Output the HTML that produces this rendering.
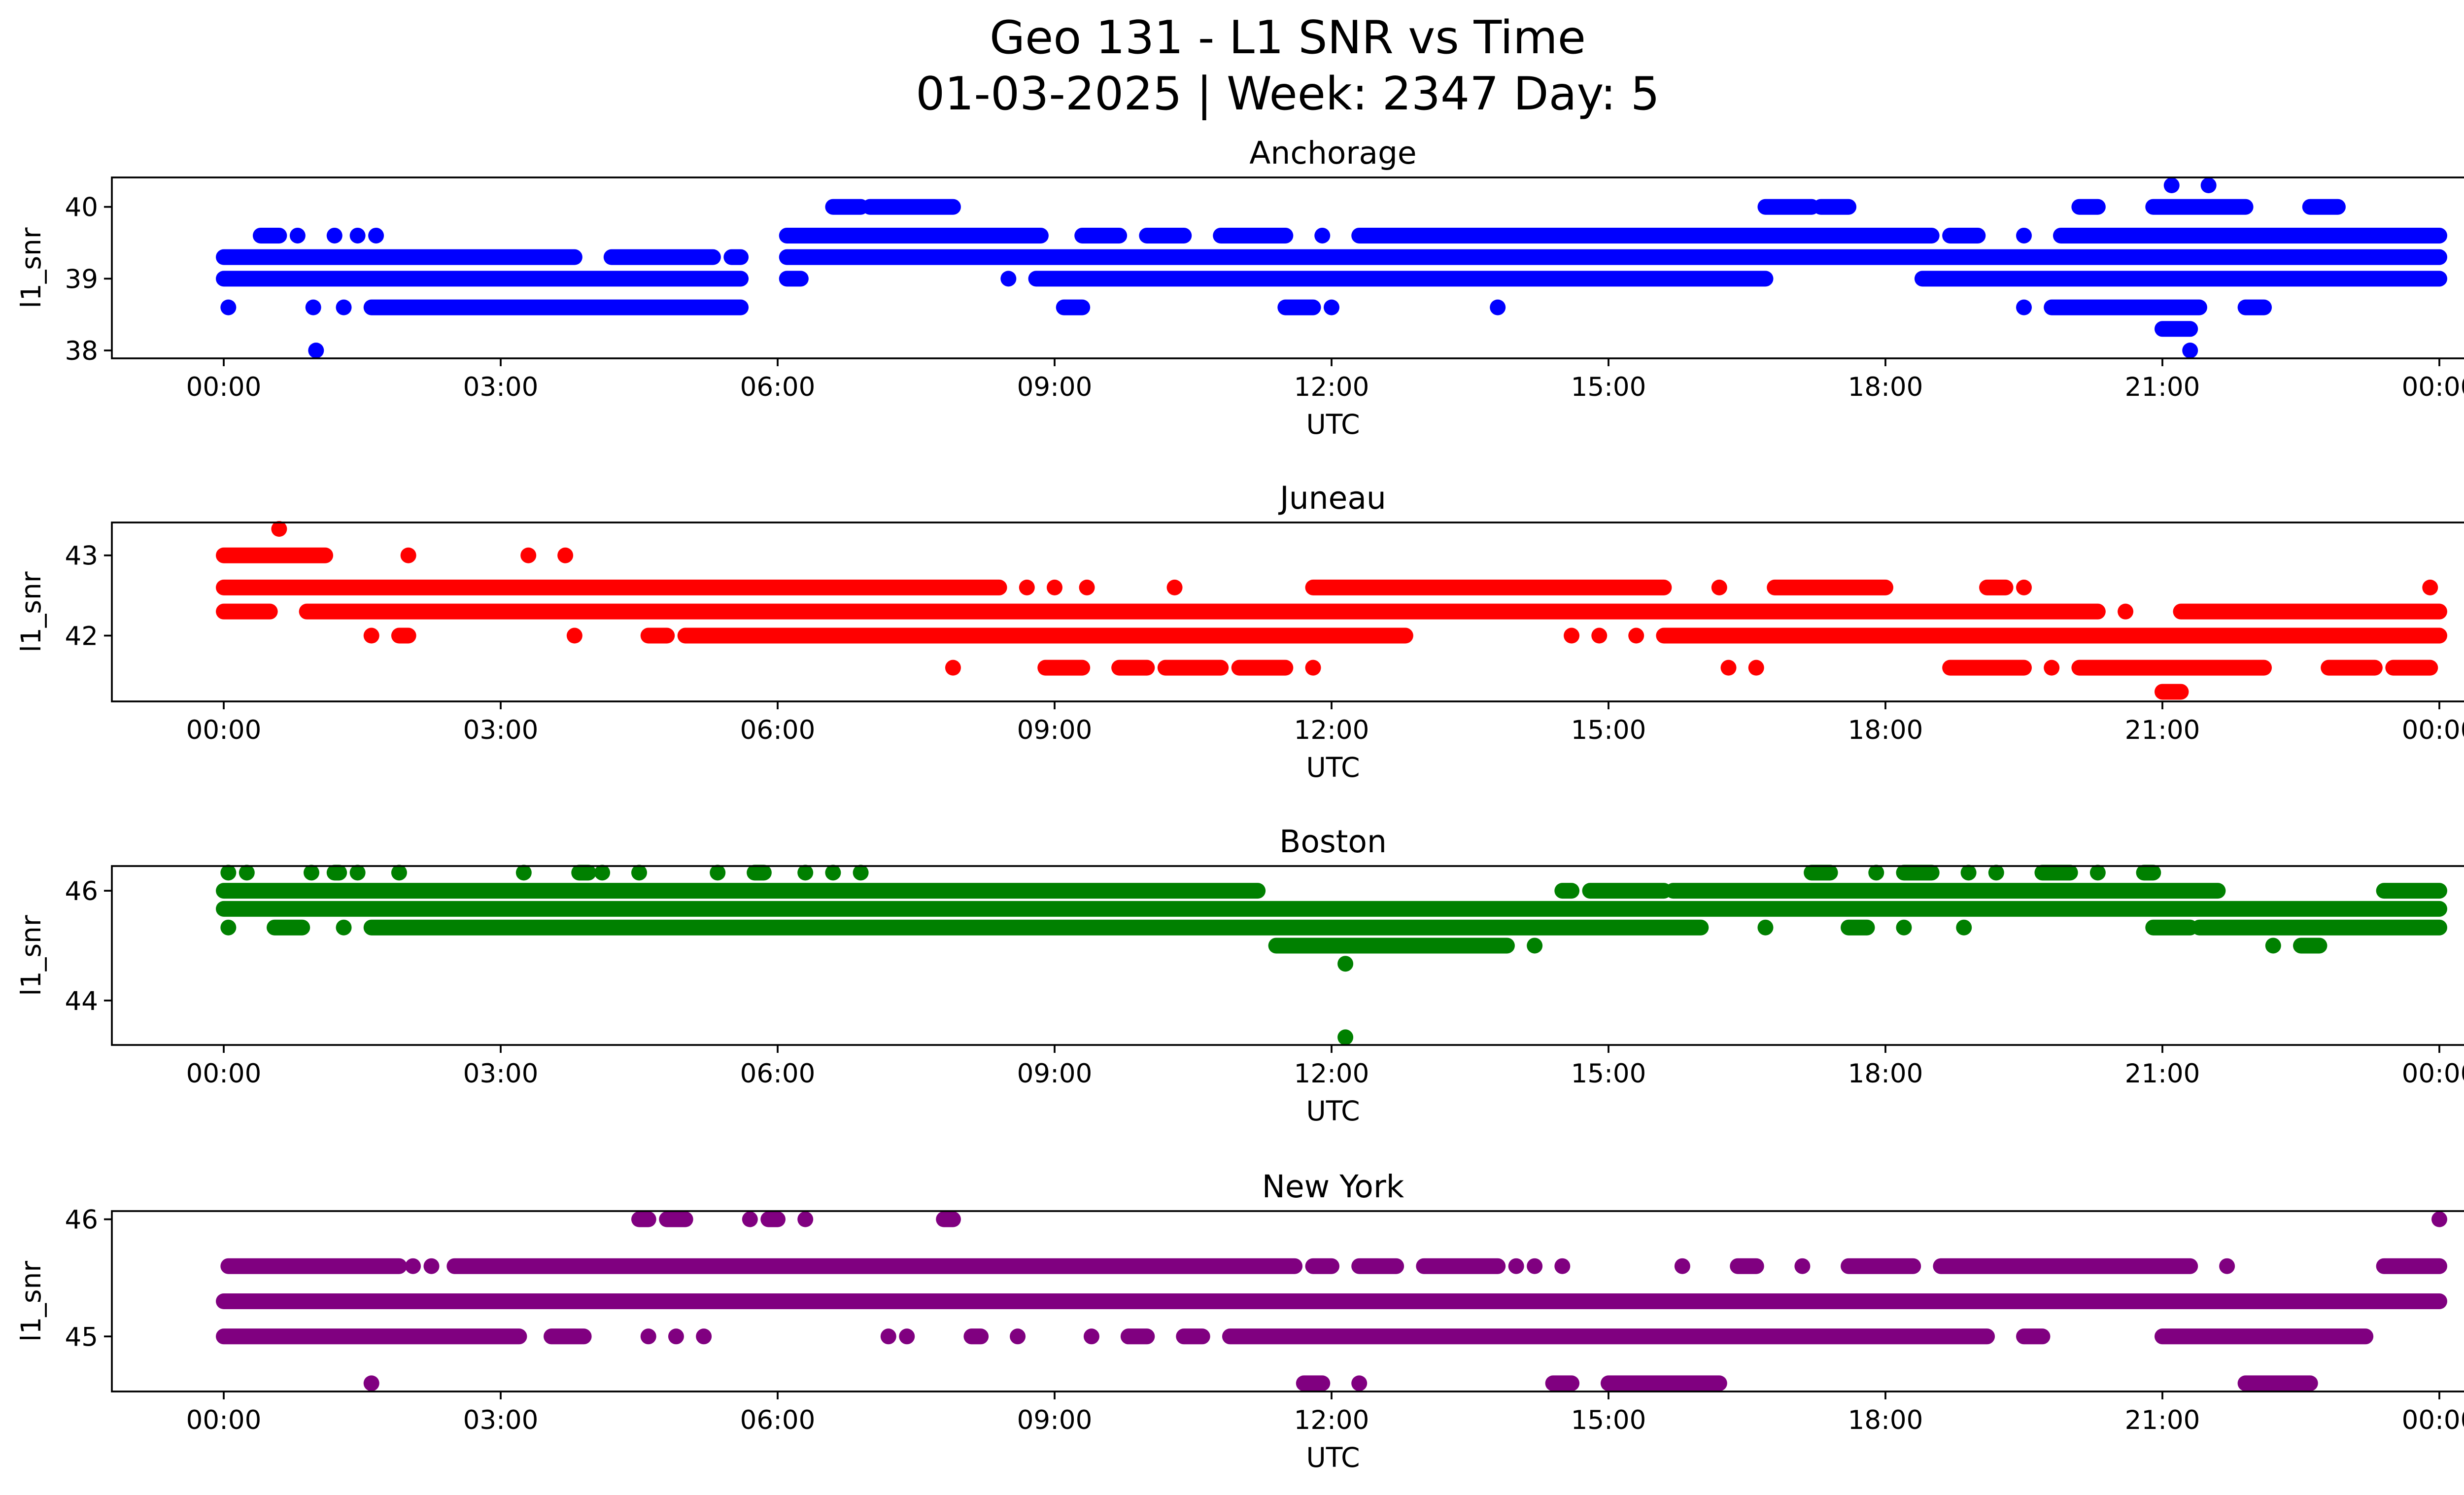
<!DOCTYPE html>
<html><head><meta charset="utf-8"><style>
html,body{margin:0;padding:0;background:#fff;}
svg{display:block;font-family:"DejaVu Sans","Liberation Sans",sans-serif;}
</style></head><body>
<svg id="fig" width="5226" height="3033" viewBox="0 0 5226 3033" xmlns="http://www.w3.org/2000/svg">
<rect width="5226" height="3033" fill="#fff"/>
<text x="2613" y="108" font-size="93" text-anchor="middle">Geo 131 - L1 SNR vs Time</text>
<text x="2613" y="222" font-size="93" text-anchor="middle">01-03-2025 | Week: 2347 Day: 5</text>
</svg>
<script>
// x-axis ticks (hours) and labels
const xTickHours = [0,3,6,9,12,15,18,21,24];
const xTickLabels = ["00:00","03:00","06:00","09:00","12:00","15:00","18:00","21:00","00:00"];

// Panel data: runs of [snr level, start hour, end hour]; start==end for single points
const anchorageRuns = [
 [39.3,0,3.8],[39.3,4.2,5.3],[39.3,5.5,5.6],[39.3,6.1,24],
 [39,0,5.6],[39,6.1,6.25],[39,8.5,8.5],[39,8.8,16.7],[39,18.4,24],
 [38.6,0.05,0.05],[38.6,0.97,0.97],[38.6,1.3,1.3],[38.6,1.6,5.6],[38.6,9.1,9.3],[38.6,11.5,11.8],[38.6,12.0,12.0],[38.6,13.8,13.8],[38.6,19.5,19.5],[38.6,19.8,21.4],[38.6,21.9,22.1],
 [38.3,21.0,21.3],[38,1.0,1.0],[38,21.3,21.3],
 [39.6,0.4,0.6],[39.6,0.8,0.8],[39.6,1.2,1.2],[39.6,1.45,1.45],[39.6,1.65,1.65],[39.6,6.1,8.85],[39.6,9.3,9.7],[39.6,10.0,10.4],[39.6,10.8,11.5],[39.6,11.9,11.9],[39.6,12.3,18.5],[39.6,18.7,19.0],[39.6,19.5,19.5],[39.6,19.9,24],
 [40,6.6,6.9],[40,7.0,7.9],[40,16.7,17.2],[40,17.3,17.6],[40,20.1,20.3],[40,20.9,21.9],[40,22.6,22.9],
 [40.3,21.1,21.1],[40.3,21.5,21.5]
];
const juneauRuns = [
 [43,0,1.1],[43,2.0,2.0],[43,3.3,3.3],[43,3.7,3.7],[43.33,0.6,0.6],
 [42.6,0,8.4],[42.6,8.7,8.7],[42.6,9.0,9.0],[42.6,9.35,9.35],[42.6,10.3,10.3],[42.6,11.8,15.6],[42.6,16.2,16.2],[42.6,16.8,18.0],[42.6,19.1,19.3],[42.6,19.5,19.5],[42.6,23.9,23.9],
 [42.3,0,0.5],[42.3,0.9,20.3],[42.3,20.6,20.6],[42.3,21.2,24],
 [42,1.6,1.6],[42,1.9,2.0],[42,3.8,3.8],[42,4.6,4.8],[42,5.0,12.8],[42,14.6,14.6],[42,14.9,14.9],[42,15.3,15.3],[42,15.6,24],
 [41.6,7.9,7.9],[41.6,8.9,9.3],[41.6,9.7,10.0],[41.6,10.2,10.8],[41.6,11.0,11.5],[41.6,11.8,11.8],[41.6,16.3,16.3],[41.6,16.6,16.6],[41.6,18.7,19.5],[41.6,19.8,19.8],[41.6,20.1,22.1],[41.6,22.8,23.3],[41.6,23.5,23.9],
 [41.3,21.0,21.2]
];
const bostonRuns = [
 [46.33,0.05,0.05],[46.33,0.25,0.25],[46.33,0.95,0.95],[46.33,1.2,1.25],[46.33,1.45,1.45],[46.33,1.9,1.9],[46.33,3.25,3.25],[46.33,3.85,3.95],[46.33,4.1,4.1],[46.33,4.5,4.5],[46.33,5.35,5.35],[46.33,5.75,5.85],[46.33,6.3,6.3],[46.33,6.6,6.6],[46.33,6.9,6.9],[46.33,17.2,17.4],[46.33,17.9,17.9],[46.33,18.2,18.5],[46.33,18.9,18.9],[46.33,19.2,19.2],[46.33,19.7,20.0],[46.33,20.3,20.3],[46.33,20.8,20.9],
 [46,0,11.2],[46,14.5,14.6],[46,14.8,15.6],[46,15.7,21.6],[46,23.4,24],
 [45.67,0,24],
 [45.33,0.05,0.05],[45.33,0.55,0.85],[45.33,1.3,1.3],[45.33,1.6,16.0],[45.33,16.7,16.7],[45.33,17.6,17.8],[45.33,18.2,18.2],[45.33,18.85,18.85],[45.33,20.9,21.3],[45.33,21.4,24],
 [45,11.4,13.9],[45,14.2,14.2],[45,22.2,22.2],[45,22.5,22.7],
 [44.67,12.15,12.15],[43.33,12.15,12.15]
];
const newYorkRuns = [
 [46,4.5,4.6],[46,4.8,5.0],[46,5.7,5.7],[46,5.9,6.0],[46,6.3,6.3],[46,7.8,7.9],[46,24,24],
 [45.6,0.05,1.9],[45.6,2.05,2.05],[45.6,2.25,2.25],[45.6,2.5,11.6],[45.6,11.8,12.0],[45.6,12.3,12.7],[45.6,13.0,13.8],[45.6,14.0,14.0],[45.6,14.2,14.2],[45.6,14.5,14.5],[45.6,15.8,15.8],[45.6,16.4,16.6],[45.6,17.1,17.1],[45.6,17.6,18.3],[45.6,18.6,21.3],[45.6,21.7,21.7],[45.6,23.4,24],
 [45.3,0,24],
 [45,0,3.2],[45,3.55,3.9],[45,4.6,4.6],[45,4.9,4.9],[45,5.2,5.2],[45,7.2,7.2],[45,7.4,7.4],[45,8.1,8.2],[45,8.6,8.6],[45,9.4,9.4],[45,9.8,10.0],[45,10.4,10.6],[45,10.9,19.1],[45,19.5,19.7],[45,21.0,23.2],
 [44.6,1.6,1.6],[44.6,11.7,11.9],[44.6,12.3,12.3],[44.6,14.4,14.6],[44.6,15.0,16.2],[44.6,21.9,22.6]
];
const anchorageTicks = [38,39,40];
const juneauTicks = [42,43];
const bostonTicks = [44,46];
const newYorkTicks = [45,46];

const panels = [
 {name:"anchorage", title:"Anchorage", color:"#0000ff", runs:anchorageRuns, ticks:anchorageTicks, ymin:37.89, ymax:40.41, top:360, bottom:727},
 {name:"juneau", title:"Juneau", color:"#ff0000", runs:juneauRuns, ticks:juneauTicks, ymin:41.18, ymax:43.41, top:1060, bottom:1423},
 {name:"boston", title:"Boston", color:"#008000", runs:bostonRuns, ticks:bostonTicks, ymin:43.19, ymax:46.45, top:1757, bottom:2120},
 {name:"new-york", title:"New York", color:"#800080", runs:newYorkRuns, ticks:newYorkTicks, ymin:44.53, ymax:46.07, top:2457, bottom:2823}
];
const NS="http://www.w3.org/2000/svg";
const svg=document.getElementById('fig');
const L=227, R=5183, X0=454, X24=4950;
function xs(h){return X0+(X24-X0)*h/24;}
function mk(tag,attrs,parent){const e=document.createElementNS(NS,tag);for(const k in attrs)e.setAttribute(k,attrs[k]);(parent||svg).appendChild(e);return e;}
panels.forEach(p=>{
 const ys=v=>p.bottom-(v-p.ymin)/(p.ymax-p.ymin)*(p.bottom-p.top);
 const g=mk('g',{});
 
 
 const marks=mk('g',{},g);
 
 
 p.runs.forEach(r=>{
  const ln=mk('line',{x1:xs(r[1]),x2:xs(r[2]),y1:ys(r[0]),y2:ys(r[0]),stroke:p.color,'stroke-width':32,'stroke-linecap':'round'},marks);
  
  
 });
 const frame=mk('rect',{x:L,y:p.top,width:R-L,height:p.bottom-p.top,fill:'none',stroke:'#000','stroke-width':3.7},g);
 
 
 const t=mk('text',{x:(L+R)/2,y:p.top-28,'font-size':63,'text-anchor':'middle'},g);
 t.textContent=p.title;
 
 
 xTickHours.forEach((h,i)=>{
  mk('line',{x1:xs(h),x2:xs(h),y1:p.bottom,y2:p.bottom+16,stroke:'#000','stroke-width':3.7},g);
  const tl=mk('text',{x:xs(h),y:p.bottom+76,'font-size':53,'text-anchor':'middle'},g);
  tl.textContent=xTickLabels[i];
  
  
 });
 const xl=mk('text',{x:(L+R)/2,y:p.bottom+153,'font-size':55,'text-anchor':'middle'},g);
 xl.textContent='UTC';
 
 
 p.ticks.forEach(v=>{
  mk('line',{x1:L-16,x2:L,y1:ys(v),y2:ys(v),stroke:'#000','stroke-width':3.7},g);
  const yl=mk('text',{x:L-28,y:ys(v)+19,'font-size':53,'text-anchor':'end'},g);
  yl.textContent=String(v);
  
  
 });
 const cy=(p.top+p.bottom)/2;
 const ya=mk('text',{x:0,y:0,'font-size':55,'text-anchor':'middle',transform:`translate(82,${cy}) rotate(-90)`},g);
 ya.textContent='l1_snr';
 
 
});
</script>
</body></html>
